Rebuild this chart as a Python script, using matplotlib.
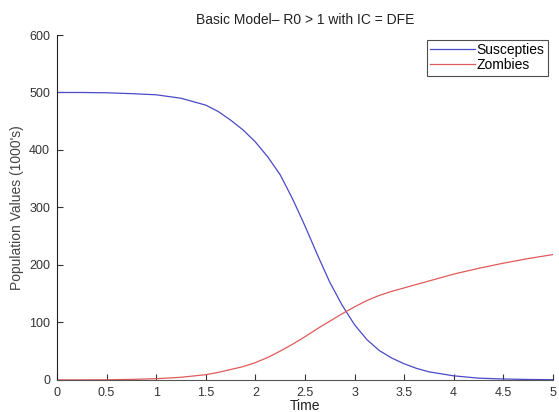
import matplotlib
matplotlib.use('Agg')
import matplotlib.pyplot as plt

plt.rcParams['font.family'] = ['Liberation Sans', 'DejaVu Sans']

# 时间点与读图得到的数值
time = [0, 0.25, 0.5, 0.75, 1, 1.25, 1.5, 1.625, 1.75, 1.875, 2, 2.125, 2.25, 2.375,
        2.5, 2.625, 2.75, 2.875, 3, 3.125, 3.25, 3.375, 3.5, 3.625, 3.75,
        4, 4.25, 4.5, 4.75, 5]
susceptibles = [500, 500, 499.5, 498, 496, 490, 478, 467, 452, 435, 414, 388, 357, 315,
                268, 218, 170, 130, 96, 70, 51, 38, 28, 20, 14,
                7, 3, 1.5, 0.7, 0.3]
zombies = [0, 0, 0.2, 0.8, 2, 4.5, 9, 13, 18, 23, 30, 39, 50, 62,
           75, 89, 102, 115, 127, 138, 147, 154, 160, 166, 172,
           184, 194, 203, 211, 218]

fig = plt.figure(figsize=(5.59, 4.12), dpi=100, facecolor='white')
ax = fig.add_axes([0.102, 0.078, 0.887, 0.837])

ax.plot(time, susceptibles, color='#4a4ac8', lw=0.9, label='Suscepties')
ax.plot(time, zombies, color='#e05a5a', lw=0.9, label='Zombies')

ax.set_xlim(0, 5)
ax.set_ylim(0, 600)
ax.set_xticks([0, 0.5, 1, 1.5, 2, 2.5, 3, 3.5, 4, 4.5, 5])
ax.set_xticklabels(['0', '0.5', '1', '1.5', '2', '2.5', '3', '3.5', '4', '4.5', '5'])
ax.set_yticks([0, 100, 200, 300, 400, 500, 600])
ax.tick_params(direction='in', length=4, width=0.8, labelsize=9, pad=5, colors='#333333')
ax.spines['top'].set_visible(False)
ax.spines['right'].set_visible(False)
ax.spines['left'].set_color('#222222')
ax.spines['bottom'].set_color('#555555')

ax.set_title('Basic Model\u2013 R0 > 1 with IC = DFE', fontsize=10, pad=8, color='#222222')
ax.set_xlabel('Time', fontsize=10, labelpad=0, color='#222222')
ax.set_ylabel("Population Values (1000's)", fontsize=10, labelpad=4, color='#444444')

leg = ax.legend(loc='upper right', fontsize=10, handlelength=3.2, frameon=True, fancybox=False,
                borderpad=0.25, labelspacing=0.05, handletextpad=0.15, borderaxespad=0.35)
leg.get_frame().set_edgecolor('#222222')
leg.get_frame().set_linewidth(0.8)

fig.savefig('out.png', dpi=100)
plt.close()
